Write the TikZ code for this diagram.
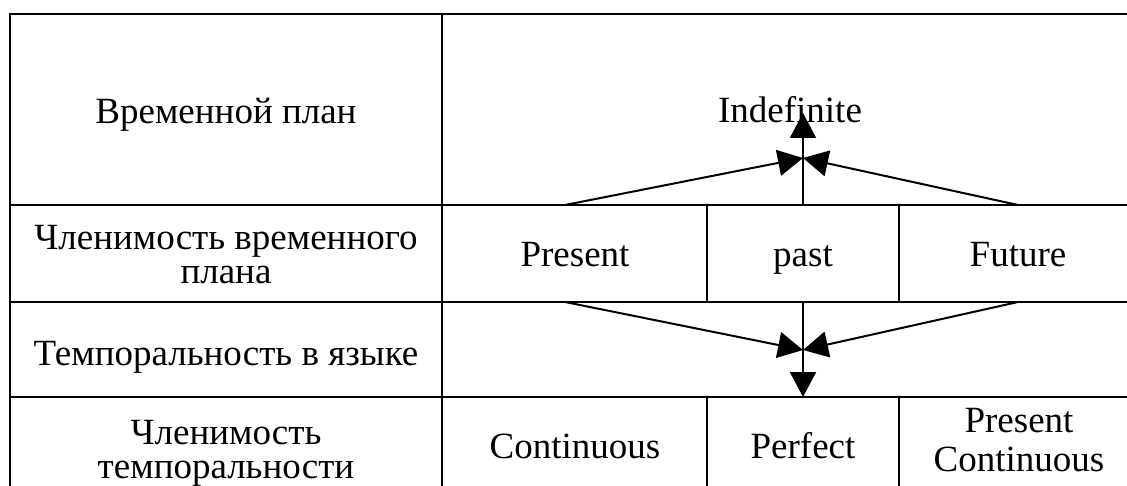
\documentclass[tikz,border=0pt]{standalone}
\usepackage{fontspec}
\setmainfont{Liberation Serif}
\usetikzlibrary{arrows.meta}
\begin{document}
\begin{tikzpicture}[x=1pt,y=-1pt,
  rule/.style={line width=2.2pt},
  link/.style={line width=2pt,-{Triangle[length=25pt,width=26pt]}},
  lbl/.style={inner sep=0pt,anchor=base,font=\fontsize{37}{34}\selectfont},
  lbltwo/.style={inner sep=0pt,anchor=center,align=center,font=\fontsize{37}{34}\selectfont},
  lbltwoen/.style={inner sep=0pt,anchor=center,align=center,font=\fontsize{37}{39}\selectfont}]
\useasboundingbox (0,0) rectangle (1127,486);
\fill[white] (0,0) rectangle (1127,486);

% table rules
\draw[rule] (10,486) -- (10,14) -- (1127,14);
\draw[rule] (10,205) -- (1127,205);
\draw[rule] (10,302) -- (1127,302);
\draw[rule] (10,397) -- (1127,397);
\draw[rule] (442,14) -- (442,486);
\draw[rule] (707,205) -- (707,302);
\draw[rule] (899,205) -- (899,302);
\draw[rule] (707,397) -- (707,486);
\draw[rule] (899,397) -- (899,486);

% left column
\node[lbl] (plan) at (226,124) {Временной план};
\node[lbltwo] (division) at (226,254.5) {Членимость временного\\плана};
\node[lbl] (temporality) at (226,365) {Темпоральность в языке};
\node[lbltwo] (tdivision) at (226,453) {Членимость\\темпоральности};

% right part
\node[lbl] (indef) at (790,123) {Indefinite};
\node[lbl] (present) at (575,267) {Present};
\node[lbl] (past) at (803,267) {past};
\node[lbl] (future) at (1018,267) {Future};
\node[lbl] (cont) at (575,458) {Continuous};
\node[lbl] (perf) at (803,458) {Perfect};
\node[lbltwoen] (prescont) at (1019,440.5) {Present\\Continuous};

% arrow anchors
\coordinate (upL) at (565,205);
\coordinate (upM) at (803,205);
\coordinate (upR) at (1018,205);
\coordinate (upHub) at (803,158);
\coordinate (upEnd) at (803,113);
\coordinate (dnL) at (565,302);
\coordinate (dnM) at (803,302);
\coordinate (dnR) at (1018,302);
\coordinate (dnHub) at (803,350);
\coordinate (dnEnd) at (803,397);

\draw[link] (upL) -- (upHub);
\draw[link] (upR) -- (upHub);
\draw[link] (upM) -- (upEnd);
\draw[link] (dnL) -- (dnHub);
\draw[link] (dnR) -- (dnHub);
\draw[link] (dnM) -- (dnEnd);
\end{tikzpicture}
\end{document}
